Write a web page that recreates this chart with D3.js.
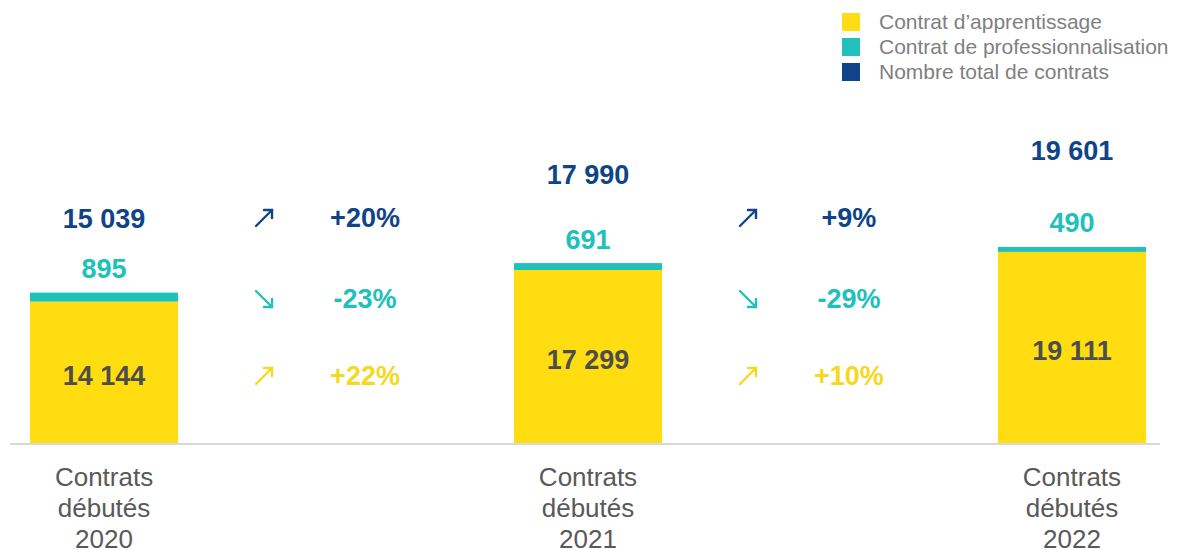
<!DOCTYPE html>
<html>
<head>
<meta charset="utf-8">
<script src="https://cdn.jsdelivr.net/npm/d3@7"></script>
<style>
  body { margin: 0; background: #fff; }
  svg { display: block; font-family: "Liberation Sans", Arial, sans-serif; }
</style>
</head>
<body>
<div id="chart"></div>
<script>
// données
const years = ['2020', '2021', '2022'];
const apprentissage = [14144, 17299, 19111];
const professionnalisation = [895, 691, 490];
const totals = [15039, 17990, 19601];
const legendLabels = ['Contrat d\u2019apprentissage', 'Contrat de professionnalisation', 'Nombre total de contrats'];

const colors = { appr: '#FFDD11', pro: '#20C1BA', total: '#0F4488', inner: '#4D4D4D', grey: '#7F7F7F', axis: '#595959' };

const width = 1178, height = 550;
const baseY = 443;

const svg = d3.select('#chart').append('svg')
  .attr('width', width)
  .attr('height', height);

const x = d3.scaleBand()
  .domain(years)
  .range([30, 1146])
  .paddingInner(0.694)
  .paddingOuter(0);

// échelle des barres
const y = d3.scaleLinear().domain([0, 20000]).range([baseY, 243]);
// échelle des étiquettes de total (axe secondaire)
const yTotal = d3.scaleLinear().domain([0, 20000]).range([baseY, 145]);

const data = years.map((yr, i) => ({
  year: yr, appr: apprentissage[i], pro: professionnalisation[i], total: totals[i]
}));

// barres empilées
const g = svg.append('g');
g.selectAll('.appr').data(data).enter().append('rect')
  .attr('x', d => x(d.year))
  .attr('width', x.bandwidth())
  .attr('y', d => y(d.appr))
  .attr('height', d => baseY - y(d.appr))
  .attr('fill', colors.appr);

g.selectAll('.pro').data(data).enter().append('rect')
  .attr('x', d => x(d.year))
  .attr('width', x.bandwidth())
  .attr('y', d => y(d.appr + d.pro))
  .attr('height', d => y(d.appr) - y(d.appr + d.pro))
  .attr('fill', colors.pro);

// ligne de base
svg.append('line')
  .attr('x1', 10).attr('x2', 1160)
  .attr('y1', baseY + 1).attr('y2', baseY + 1)
  .attr('stroke', '#D9D9D9').attr('stroke-width', 2);

const fmt = v => d3.format(',')(v).replace(/,/g, ' ');

// étiquettes
g.selectAll('.lblAppr').data(data).enter().append('text')
  .attr('x', d => x(d.year) + x.bandwidth() / 2)
  .attr('y', d => (y(d.appr) + baseY) / 2 + 3)
  .attr('dy', '0.35em')
  .attr('text-anchor', 'middle')
  .attr('font-size', 27).attr('font-weight', 'bold')
  .attr('fill', colors.inner)
  .text(d => fmt(d.appr));

g.selectAll('.lblPro').data(data).enter().append('text')
  .attr('x', d => x(d.year) + x.bandwidth() / 2)
  .attr('y', d => y(d.appr + d.pro) - 24)
  .attr('dy', '0.35em')
  .attr('text-anchor', 'middle')
  .attr('font-size', 27).attr('font-weight', 'bold')
  .attr('fill', colors.pro)
  .text(d => fmt(d.pro));

g.selectAll('.lblTotal').data(data).enter().append('text')
  .attr('x', d => x(d.year) + x.bandwidth() / 2)
  .attr('y', d => yTotal(d.total))
  .attr('dy', '0.35em')
  .attr('text-anchor', 'middle')
  .attr('font-size', 27).attr('font-weight', 'bold')
  .attr('fill', colors.total)
  .text(d => fmt(d.total));

// évolutions entre années
const rows = [
  { key: 'total', color: colors.total, y: 218 },
  { key: 'pro', color: colors.pro, y: 299 },
  { key: 'appr', color: '#F5D91F', y: 376 }
];

for (let i = 0; i < years.length - 1; i++) {
  const a = data[i], b = data[i + 1];
  const mid = (x(a.year) + x.bandwidth() + x(b.year)) / 2;
  rows.forEach(r => {
    const change = b[r.key] / a[r.key] - 1;
    const pct = Math.round(change * 100);
    const up = change >= 0;
    const ag = svg.append('g')
      .attr('transform', `translate(${mid - 82},${r.y})`)
      .attr('fill', 'none')
      .attr('stroke', r.color)
      .attr('stroke-width', 2.4)
      .attr('stroke-linecap', 'round');
    if (up) {
      ag.append('path').attr('d', 'M-8,8 L8,-8');
      ag.append('path').attr('d', 'M0,-8 L8,-8 L8,0');
    } else {
      ag.append('path').attr('d', 'M-8,-8 L8,8');
      ag.append('path').attr('d', 'M0,8 L8,8 L8,0');
    }
    svg.append('text')
      .attr('x', mid + 19)
      .attr('y', r.y)
      .attr('dy', '0.35em')
      .attr('text-anchor', 'middle')
      .attr('font-size', 27).attr('font-weight', 'bold')
      .attr('fill', r.color)
      .text((up ? '+' : '') + pct + '%');
  });
}

// libellés des catégories
const cat = svg.selectAll('.cat').data(years).enter().append('text')
  .attr('x', d => x(d) + x.bandwidth() / 2)
  .attr('y', 477)
  .attr('text-anchor', 'middle')
  .attr('font-size', 26)
  .attr('fill', colors.axis);
cat.append('tspan').attr('x', d => x(d) + x.bandwidth() / 2).attr('dy', '0.35em').text('Contrats');
cat.append('tspan').attr('x', d => x(d) + x.bandwidth() / 2).attr('dy', 31).text('débutés');
cat.append('tspan').attr('x', d => x(d) + x.bandwidth() / 2).attr('dy', 31).text(d => d);

// légende
const legColors = [colors.appr, colors.pro, colors.total];
const leg = svg.selectAll('.leg').data(legendLabels).enter().append('g')
  .attr('transform', (d, i) => `translate(842,${22 + i * 25})`);
leg.append('rect')
  .attr('x', 0).attr('y', -9).attr('width', 18).attr('height', 18)
  .attr('fill', (d, i) => legColors[i]);
leg.append('text')
  .attr('x', 37).attr('dy', '0.35em')
  .attr('font-size', 21)
  .attr('fill', colors.grey)
  .text(d => d);
</script>
</body>
</html>
